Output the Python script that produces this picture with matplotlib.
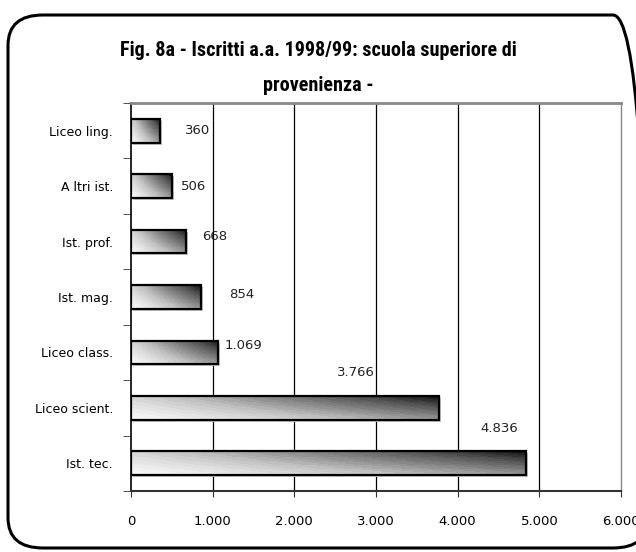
import numpy as np
import matplotlib.pyplot as plt
from matplotlib.patches import Rectangle, FancyBboxPatch
import matplotlib.transforms as mtransforms
from matplotlib import font_manager

categories = ['Ist. tec.', 'Liceo scient.', 'Liceo class.', 'Ist. mag.',
              'Ist. prof.', 'A ltri ist.', 'Liceo ling.']
values = [4836, 3766, 1069, 854, 668, 506, 360]
value_labels = ['4.836', '3.766', '1.069', '854', '668', '506', '360']
xticks = [0, 1000, 2000, 3000, 4000, 5000, 6000]
xtick_labels = ['0', '1.000', '2.000', '3.000', '4.000', '5.000', '6.000']
title = 'Fig. 8a - Iscritti a.a. 1998/99: scuola superiore di\nprovenienza -'

# label placement, pixels relative to bar end (odd excel layout)
label_offsets = [(-27, 35), (-83, 35), (25, 7), (41, 2), (29, 5), (21, 0), (37, 0)]

names = {f.name for f in font_manager.fontManager.ttflist}
narrow = [n for n in ['Liberation Sans Narrow', 'DejaVu Sans Condensed',
                      'Roboto Condensed', 'Open Sans Condensed'] if n in names]

plt.rcParams['font.family'] = ['DejaVu Sans']

fig = plt.figure(figsize=(6.36, 5.52), dpi=100)
fig.patch.set_facecolor('white')

# rounded frame around whole chart
frame = FancyBboxPatch((8 / 636, 4 / 552), 640 / 636, 533 / 552,
                       boxstyle='round,pad=0,rounding_size=0.055',
                       transform=fig.transFigure, fill=False,
                       edgecolor='black', linewidth=2.2, clip_on=False)
fig.patches.append(frame)

fig.text(0.5, 0.926, title, ha='center', va='top', fontsize=14.5,
         fontweight='bold', family=narrow + ['DejaVu Sans'],
         fontstretch='condensed', linespacing=2.05)

ax = fig.add_axes([131 / 636, 61 / 552, 490 / 636, 388 / 552])
y = np.arange(len(categories))
h = 0.43

ax.set_xlim(0, 6000)
ax.set_ylim(-0.5, len(categories) - 0.5)

# gradient used inside the bars
gx, gy = np.meshgrid(np.linspace(0, 1, 200), np.linspace(0, 1, 30))

for i, v in enumerate(values):
    y0 = y[i] - h / 2
    # shadow
    sh = mtransforms.offset_copy(ax.transData, fig=fig, x=2, y=-2, units='dots')
    ax.add_patch(Rectangle((0, y0), v, h, facecolor='#c4c4c4',
                           edgecolor='none', transform=sh, zorder=2))
    t = 0.5 * gx + 0.5 * gy * (0.5 + 0.5 * gx)
    t = np.floor(t * 24) / 24
    im = ax.imshow(t, cmap='Greys', vmin=-0.08, vmax=1.05, origin='lower',
                   extent=(0, v, y0, y0 + h), aspect='auto', zorder=3,
                   interpolation='nearest')
    rect = Rectangle((0, y0), v, h, facecolor='none', edgecolor='black',
                     linewidth=1.6, zorder=4)
    ax.add_patch(rect)
    im.set_clip_path(rect)
    dx, dy = label_offsets[i]
    ax.annotate(value_labels[i], (v, y[i]), xytext=(dx, dy),
                textcoords='offset pixels', ha='center', va='center',
                fontsize=9.5, color='#222222', zorder=5, family='DejaVu Sans')

for xv in xticks[1:-1]:
    ax.axvline(xv, color='black', linewidth=0.9, zorder=1)

ax.set_xticks(xticks)
ax.set_xticklabels(xtick_labels, fontsize=9.5, family='DejaVu Sans')
ax.tick_params(axis='x', length=4, pad=13, color='#333333')
ax.set_yticks(y)
ax.set_yticklabels(categories, fontsize=9, family='DejaVu Sans')
ax.tick_params(axis='y', which='major', length=0, pad=13)
ax.set_yticks(np.arange(len(categories) + 1) - 0.5, minor=True)
ax.tick_params(axis='y', which='minor', length=6, color='#333333')

ax.spines['left'].set_color('black')
ax.spines['left'].set_linewidth(1.2)
ax.spines['bottom'].set_color('#333333')
ax.spines['bottom'].set_linewidth(1.5)
ax.spines['top'].set_color('#888888')
ax.spines['top'].set_linewidth(2)
ax.spines['right'].set_color('#888888')
ax.spines['right'].set_linewidth(1)

plt.savefig('out.png', dpi=100)
